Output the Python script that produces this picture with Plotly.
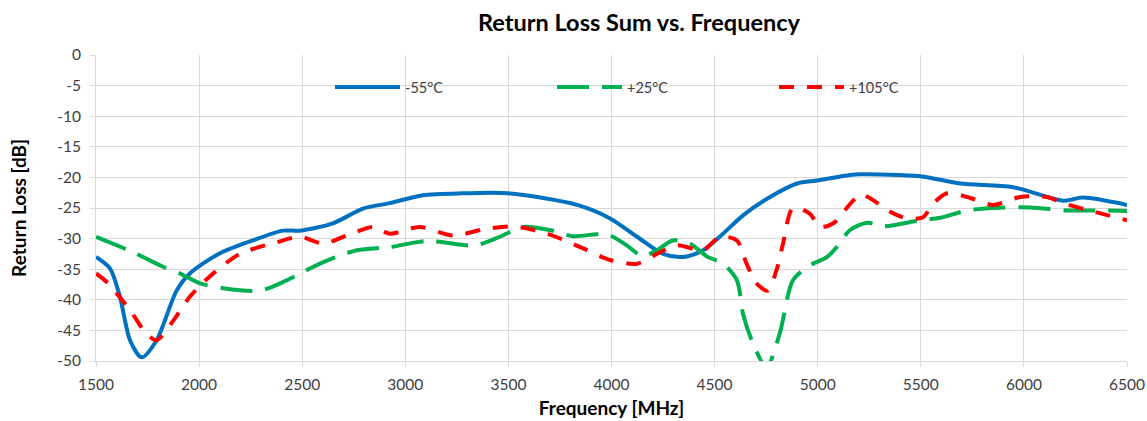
import plotly.graph_objects as go

FONT = "Lato"

# -55°C
f_m55 = [1500, 1568, 1616, 1665, 1721, 1794, 1891, 1955, 2101, 2261, 2407, 2489, 2649, 2795, 2925, 3085, 3279,
         3499, 3833, 3993, 4124, 4250, 4347, 4444, 4541, 4638, 4769, 4900, 4997, 5157, 5206, 5497, 5691, 5948,
         6190, 6287, 6500]
rl_m55 = [-33.0, -34.9, -39.5, -46.6, -49.4, -46.6, -38.5, -35.7, -32.4, -30.3, -28.7, -28.7, -27.5, -25.1, -24.2,
          -22.9, -22.6, -22.6, -24.5, -26.7, -29.7, -32.5, -33.0, -31.9, -29.2, -26.2, -23.2, -21.0, -20.5, -19.6,
          -19.5, -19.8, -21.0, -21.6, -23.8, -23.3, -24.5]

# +25°C
f_p25 = [1500, 1665, 1825, 1907, 2004, 2116, 2295, 2426, 2586, 2765, 2925, 3104, 3298, 3346, 3458, 3570, 3701,
         3812, 3977, 4074, 4150, 4220, 4298, 4380, 4462, 4541, 4608, 4638, 4687, 4752, 4816, 4880, 4961, 5046,
         5099, 5157, 5240, 5318, 5497, 5594, 5725, 5851, 6031, 6210, 6384, 6500]
rl_p25 = [-29.7, -32.0, -34.6, -35.7, -37.3, -38.1, -38.5, -36.8, -34.1, -31.9, -31.4, -30.4, -31.1, -31.1, -29.7,
          -28.1, -28.6, -29.6, -29.3, -31.1, -32.9, -31.9, -30.3, -30.8, -32.9, -34.1, -36.8, -42.3, -47.2, -51.0,
          -45.5, -36.8, -34.4, -33.0, -31.1, -28.6, -27.4, -28.0, -27.0, -26.6, -25.4, -25.0, -24.9, -25.4, -25.4,
          -25.5]

# +105°C
f_p105 = [1500, 1552, 1665, 1746, 1794, 1875, 1955, 2068, 2198, 2377, 2489, 2601, 2716, 2844, 2925, 3070, 3231,
          3378, 3523, 3688, 3862, 3993, 4124, 4220, 4318, 4444, 4525, 4608, 4655, 4703, 4757, 4800, 4832, 4880,
          4961, 5011, 5076, 5141, 5206, 5254, 5351, 5433, 5511, 5560, 5627, 5725, 5851, 5982, 6112, 6190, 6316,
          6500]
rl_p105 = [-35.7, -37.1, -41.7, -45.6, -46.6, -43.4, -39.5, -35.7, -32.5, -30.6, -29.7, -30.8, -29.5, -28.1, -29.2,
           -28.1, -29.5, -28.5, -28.0, -29.2, -31.6, -33.5, -34.1, -32.5, -31.1, -31.9, -29.7, -30.3, -34.1, -37.3,
           -38.5, -35.2, -30.8, -25.0, -25.9, -28.1, -27.5, -25.0, -22.8, -23.4, -25.6, -26.7, -26.5, -24.3, -22.6,
           -23.2, -24.5, -23.2, -23.2, -24.2, -25.4, -27.0]

x_ticks = list(range(1500, 6501, 500))
y_ticks = list(range(0, -51, -5))

# plot area in page pixels: x 96..1127, y 55..361 (page body margin removed below)
W, H = 1147, 421
PL, PR, PT, PB = 96, 1127, 55, 361


def px_x(p):
    return (p - PL) / (PR - PL)


def px_y(p):
    return (PB - p) / (PB - PT)


fig = go.Figure()
fig.add_trace(go.Scatter(x=f_m55, y=rl_m55, name="-55°C", mode="lines",
                         line=dict(color="#0070C0", width=4, shape="spline", smoothing=0.8)))
fig.add_trace(go.Scatter(x=f_p25, y=rl_p25, name="+25°C", mode="lines",
                         line=dict(color="#00B050", width=4, shape="spline", smoothing=0.8, dash="32px,13px")))
fig.add_trace(go.Scatter(x=f_p105, y=rl_p105, name="+105°C", mode="lines",
                         line=dict(color="#FF0000", width=4, shape="spline", smoothing=0.8, dash="15px,13px")))

fig.add_shape(type="rect", xref="paper", yref="paper",
              x0=px_x(228), x1=px_x(1000), y0=px_y(104), y1=px_y(69),
              fillcolor="white", line=dict(width=0), layer="between")

fig.update_layout(
    width=W, height=H,
    margin=dict(l=PL, r=W - PR, t=PT, b=H - PB),
    paper_bgcolor="white", plot_bgcolor="white",
    font=dict(family=FONT, size=15.5, color="#404040"),
    title=dict(text="<b>Return Loss Sum vs. Frequency</b>", x=639 / W, xanchor="center",
               y=1 - 23 / H, yanchor="middle",
               font=dict(family=FONT, size=23.5, color="#000000")),
    legend=dict(orientation="h", x=px_x(330), xanchor="left", y=px_y(87), yanchor="middle",
                bgcolor="rgba(0,0,0,0)", entrywidth=142, entrywidthmode="pixels", itemwidth=65,
                font=dict(family=FONT, size=14.5, color="#404040")),
    showlegend=True,
)
fig.update_xaxes(range=[1500, 6500], tickvals=x_ticks, ticktext=[str(v) for v in x_ticks],
                 showgrid=True, gridcolor="#D9D9D9", gridwidth=1, zeroline=False,
                 ticks="outside", ticklen=5, tickcolor="#D9D9D9", ticklabelstandoff=4,
                 showline=True, linecolor="#D9D9D9", automargin=False,
                 title=dict(text="<b>Frequency [MHz]</b>", font=dict(family=FONT, size=19, color="#000000"),
                            standoff=10),
                 tickfont=dict(family=FONT, size=15.5, color="#404040"))
fig.update_yaxes(range=[-50, 0], tickvals=y_ticks, ticktext=[str(v) for v in y_ticks],
                 showgrid=True, gridcolor="#D9D9D9", gridwidth=1, zeroline=False,
                 ticks="outside", ticklen=5, tickcolor="#D9D9D9", ticklabelstandoff=6,
                 showline=True, linecolor="#D9D9D9", automargin=False,
                 title=dict(text="<b>Return Loss [dB]</b>", font=dict(family=FONT, size=19, color="#000000"),
                            standoff=25),
                 tickfont=dict(family=FONT, size=15.5, color="#404040"))

fig.write_html("out.html", config={"displayModeBar": False},
               post_script="document.body.style.margin='0';")
